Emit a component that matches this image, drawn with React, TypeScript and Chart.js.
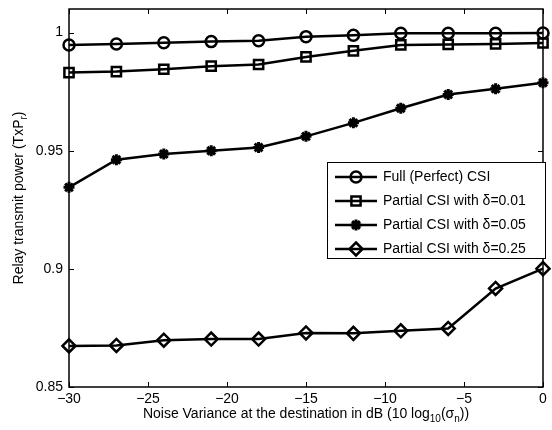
import React, { useEffect, useRef } from "react";
import { Chart, registerables } from "chart.js";

Chart.register(...registerables);

const xValues = [-30, -27, -24, -21, -18, -15, -12, -9, -6, -3, 0];
const fullCSI = [0.9948, 0.9952, 0.9957, 0.9962, 0.9966, 0.9983, 0.9989, 0.9997, 0.9997, 0.9997, 0.9998];
const partial001 = [0.9831, 0.9835, 0.9845, 0.9858, 0.9865, 0.9897, 0.9923, 0.9948, 0.995, 0.9952, 0.9956];
const partial005 = [0.9345, 0.9462, 0.9486, 0.95, 0.9514, 0.9561, 0.9618, 0.968, 0.9738, 0.9762, 0.9788];
const partial025 = [0.8674, 0.8676, 0.8698, 0.8703, 0.8703, 0.8729, 0.8727, 0.8738, 0.8748, 0.8917, 0.9001];

const seriesNames = [
  "Full (Perfect) CSI",
  "Partial CSI with \u03b4=0.01",
  "Partial CSI with \u03b4=0.05",
  "Partial CSI with \u03b4=0.25",
];
const seriesMarkers = ["circle", "rect", "star", "rectRot"];
const seriesRadii = [5.5, 6.5, 5.5, 6.5];
const seriesMarkerWidths = [2.5, 2.5, 3, 2.5];

const xTicks = [-30, -25, -20, -15, -10, -5, 0];
const yTicks = [0.85, 0.9, 0.95, 1];
const xMin = -30;
const xMax = 0;
const yMin = 0.85;
const yMax = 1.01;

const FONT = "'Liberation Sans', Arial, Helvetica, sans-serif";

function drawMarker(ctx: CanvasRenderingContext2D, style: string, x: number, y: number, r: number) {
  ctx.beginPath();
  if (style === "circle") {
    ctx.arc(x, y, r, 0, Math.PI * 2);
  } else if (style === "rect") {
    const s = Math.SQRT1_2 * r;
    ctx.rect(x - s, y - s, 2 * s, 2 * s);
  } else if (style === "rectRot") {
    ctx.moveTo(x, y - r);
    ctx.lineTo(x + r, y);
    ctx.lineTo(x, y + r);
    ctx.lineTo(x - r, y);
    ctx.closePath();
  } else if (style === "star") {
    const d = Math.cos(Math.PI / 4) * r;
    ctx.moveTo(x, y - r); ctx.lineTo(x, y + r);
    ctx.moveTo(x - r, y); ctx.lineTo(x + r, y);
    ctx.moveTo(x - d, y - d); ctx.lineTo(x + d, y + d);
    ctx.moveTo(x - d, y + d); ctx.lineTo(x + d, y - d);
  }
  ctx.stroke();
}

type Seg = { t: string; sub?: boolean };

function segWidth(ctx: CanvasRenderingContext2D, segs: Seg[], size: number, subSize: number) {
  let w = 0;
  for (const s of segs) {
    ctx.font = `${s.sub ? subSize : size}px ${FONT}`;
    w += ctx.measureText(s.t).width;
  }
  return w;
}

function drawSegs(ctx: CanvasRenderingContext2D, segs: Seg[], x: number, y: number, size: number, subSize: number) {
  let cx = x;
  ctx.textAlign = "left";
  ctx.textBaseline = "alphabetic";
  for (const s of segs) {
    ctx.font = `${s.sub ? subSize : size}px ${FONT}`;
    ctx.fillText(s.t, cx, s.sub ? y + 4 : y);
    cx += ctx.measureText(s.t).width;
  }
}

const xTitle: Seg[] = [
  { t: "Noise Variance at the destination in dB (10 log" },
  { t: "10", sub: true },
  { t: "(\u03c3" },
  { t: "n", sub: true },
  { t: "))" },
];
const yTitle: Seg[] = [{ t: "Relay transmit power (TxP" }, { t: "r", sub: true }, { t: ")" }];

const framePlugin = {
  id: "frame",
  afterDraw(chart: any) {
    const { ctx, chartArea } = chart;
    const { left, right, top, bottom } = chartArea;
    const xs = chart.scales.x;
    const ys = chart.scales.y;
    ctx.save();
    ctx.strokeStyle = "#000";
    ctx.lineWidth = 1.5;
    ctx.strokeRect(left, top, right - left, bottom - top);
    ctx.lineWidth = 1;
    ctx.beginPath();
    for (const v of xTicks) {
      const px = Math.round(xs.getPixelForValue(v)) + 0.5;
      ctx.moveTo(px, bottom); ctx.lineTo(px, bottom - 5);
      ctx.moveTo(px, top); ctx.lineTo(px, top + 5);
    }
    for (const v of yTicks) {
      const py = Math.round(ys.getPixelForValue(v)) + 0.5;
      ctx.moveTo(left, py); ctx.lineTo(left + 5, py);
      ctx.moveTo(right, py); ctx.lineTo(right - 5, py);
    }
    ctx.stroke();

    // legend
    const lx = 327, ly = 162, lw = 218, lh = 96;
    ctx.fillStyle = "#fff";
    ctx.fillRect(lx, ly, lw, lh);
    ctx.lineWidth = 1;
    ctx.strokeStyle = "#000";
    ctx.strokeRect(lx + 0.5, ly + 0.5, lw, lh);
    chart.data.datasets.forEach((ds: any, i: number) => {
      const cy = 177 + i * 24;
      ctx.strokeStyle = "#000";
      ctx.lineWidth = 2.5;
      ctx.beginPath();
      ctx.moveTo(335, cy);
      ctx.lineTo(377, cy);
      ctx.stroke();
      ctx.lineWidth = seriesMarkerWidths[i];
      drawMarker(ctx, seriesMarkers[i], 356, cy, seriesRadii[i]);
      ctx.fillStyle = "#000";
      ctx.font = `14px ${FONT}`;
      ctx.textAlign = "left";
      ctx.textBaseline = "middle";
      ctx.fillText(ds.label, 383, cy);
    });

    // axis titles
    ctx.fillStyle = "#000";
    const w = segWidth(ctx, xTitle, 14, 10);
    drawSegs(ctx, xTitle, (left + right) / 2 - w / 2, 418, 14, 10);
    const wy = segWidth(ctx, yTitle, 14, 10);
    ctx.translate(23, (top + bottom) / 2);
    ctx.rotate(-Math.PI / 2);
    drawSegs(ctx, yTitle, -wy / 2, 0, 14, 10);
    ctx.restore();
  },
};

export default function App() {
  const ref = useRef<HTMLCanvasElement>(null);
  useEffect(() => {
    if (!ref.current) return;
    const allSeries = [fullCSI, partial001, partial005, partial025];
    const chart = new Chart(ref.current, {
      type: "line",
      data: {
        datasets: allSeries.map((vals, i) => ({
          label: seriesNames[i],
          data: xValues.map((x, j) => ({ x, y: vals[j] })),
          borderColor: "#000",
          borderWidth: 2.5,
          pointStyle: seriesMarkers[i] as any,
          pointRadius: seriesRadii[i],
          pointBorderWidth: seriesMarkerWidths[i],
          pointBorderColor: "#000",
          pointBackgroundColor: "rgba(0,0,0,0)",
          tension: 0,
          clip: false as any,
        })),
      },
      options: {
        responsive: false,
        animation: false,
        events: [],
        layout: { padding: { top: 7, right: 4, left: 0, bottom: 0 } },
        plugins: { legend: { display: false }, tooltip: { enabled: false } },
        scales: {
          x: {
            type: "linear",
            min: xMin,
            max: xMax,
            grid: { display: false, drawTicks: false },
            border: { display: false },
            afterBuildTicks: (s: any) => { s.ticks = xTicks.map((v) => ({ value: v })); },
            afterFit: (s: any) => { s.height = 43; s.paddingLeft = 0; s.paddingRight = 0; },
            ticks: {
              color: "#000",
              font: { family: FONT, size: 14 },
              padding: 4,
              maxRotation: 0,
              autoSkip: false,
              callback: (v: any) => (v < 0 ? "\u2212" + Math.abs(v) : String(v)),
            },
          },
          y: {
            type: "linear",
            min: yMin,
            max: yMax,
            grid: { display: false, drawTicks: false },
            border: { display: false },
            afterBuildTicks: (s: any) => { s.ticks = yTicks.map((v) => ({ value: v })); },
            afterFit: (s: any) => { s.width = 69; s.paddingTop = 0; s.paddingBottom = 0; },
            ticks: {
              color: "#000",
              font: { family: FONT, size: 14 },
              padding: 6,
              autoSkip: false,
              callback: (v: any) => String(v),
            },
          },
        },
      },
      plugins: [framePlugin],
    });
    return () => chart.destroy();
  }, []);
  return (
    <div style={{ position: "fixed", left: 0, top: 0, width: 552, height: 430, background: "#fff" }}>
      <canvas ref={ref} width={552} height={430} style={{ display: "block" }} />
    </div>
  );
}
